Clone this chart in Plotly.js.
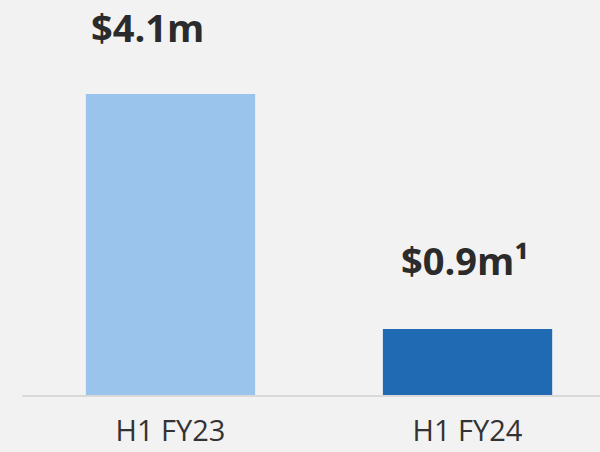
<!DOCTYPE html>
<html><head><meta charset="utf-8">
<script src="https://cdn.plot.ly/plotly-3.0.1.min.js"></script>
<style>html,body{margin:0;padding:0;background:#f2f2f2;}#chart{width:600px;height:452px;}</style>
</head><body><div id="chart"></div>
<script>
const categories = ["H1 FY23", "H1 FY24"];
const values = [4.1, 0.9];
const valueLabels = ["$4.1m", "$0.9m¹"];
const barColors = ["#9bc4ed", "#1f6ab3"];

const trace = {
  type: "bar",
  x: categories,
  y: values,
  width: 0.57,
  marker: {color: barColors},
  hoverinfo: "skip"
};

const labelShifts = [[-23, 67], [-3, 69]];
const annotations = categories.map((c, i) => ({
  x: c, y: values[i], xref: "x", yref: "y",
  text: "<b>" + valueLabels[i] + "</b>",
  showarrow: false, xanchor: "center", yanchor: "middle",
  xshift: labelShifts[i][0], yshift: labelShifts[i][1],
  font: {family: "Open Sans", size: 38, color: "#2b2b2b"}
}));

const layout = {
  width: 600, height: 452,
  margin: {l: 22, r: 0, t: 0, b: 57},
  paper_bgcolor: "#f2f2f2", plot_bgcolor: "#f2f2f2",
  showlegend: false,
  xaxis: {
    type: "category", range: [-0.5, 1.446],
    showline: true, linecolor: "#d9d9d9", linewidth: 2,
    showgrid: false, zeroline: false, ticks: "",
    ticklabelstandoff: 9,
    tickfont: {family: "Open Sans", size: 29, color: "#333333"}
  },
  yaxis: {range: [0, 5.38], visible: false, showgrid: false, zeroline: false},
  annotations: annotations
};

Plotly.newPlot("chart", [trace], layout, {displayModeBar: false, staticPlot: true});
</script>
</body></html>
